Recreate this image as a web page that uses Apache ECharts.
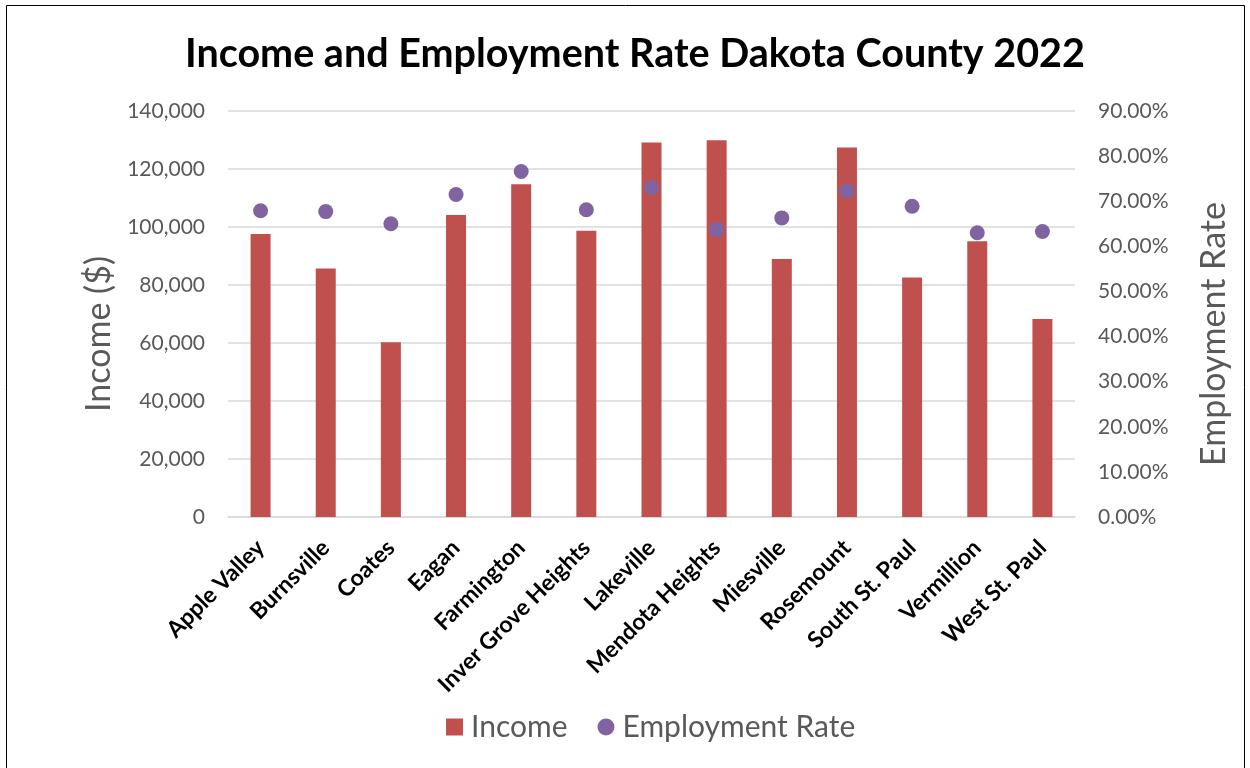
<!DOCTYPE html>
<html>
<head>
<meta charset="utf-8">
<title>Income and Employment Rate Dakota County 2022</title>
<script src="https://cdn.jsdelivr.net/npm/echarts@6/dist/echarts.min.js"></script>
<style>
  html, body { margin: 0; padding: 0; background: #ffffff; }
  #chart { width: 1250px; height: 768px; }
</style>
</head>
<body>
<div id="chart"></div>
<script>
// Cities of Dakota County
const cities = [
  'Apple Valley', 'Burnsville', 'Coates', 'Eagan', 'Farmington',
  'Inver Grove Heights', 'Lakeville', 'Mendota Heights', 'Miesville',
  'Rosemount', 'South St. Paul', 'Vermillion', 'West St. Paul'
];

// Median household income ($)
const income = [
  97600, 85700, 60300, 104100, 114700,
  98700, 129100, 129900, 89000,
  127400, 82600, 95100, 68300
];

// Employment rate (%)
const employmentRate = [
  67.9, 67.7, 65.0, 71.5, 76.6,
  68.1, 73.0, 63.7, 66.3,
  72.3, 68.9, 63.0, 63.3
];

// Axis ranges
const incomeTicks = { min: 0, max: 140000, interval: 20000 };
const rateTicks = { min: 0, max: 90, interval: 10 };

const FONT = 'Lato, "Open Sans", sans-serif';
const GREY = '#595959';

const chart = echarts.init(document.getElementById('chart'), null, { renderer: 'canvas' });

chart.setOption({
  backgroundColor: '#ffffff',
  animation: false,
  textStyle: { fontFamily: FONT },
  title: {
    text: 'Income and Employment Rate Dakota County 2022',
    left: 180,
    top: 29,
    textStyle: { fontFamily: FONT, fontWeight: 'bold', fontSize: 39.5, color: '#000000' }
  },
  graphic: [{
    type: 'rect',
    silent: true,
    shape: { x: 6.5, y: 5.5, width: 1238, height: 800 },
    style: { fill: 'none', stroke: '#000000', lineWidth: 1 }
  }],
  legend: {
    bottom: 21,
    left: 441,
    itemGap: 30,
    itemWidth: 17,
    itemHeight: 17,
    textStyle: { fontFamily: FONT, fontSize: 30, color: GREY, padding: [0, 0, 0, 3] },
    data: [
      { name: 'Income', icon: 'rect' },
      { name: 'Employment Rate', icon: 'circle' }
    ]
  },
  grid: { left: 228, right: 175, top: 111, bottom: 251, containLabel: false },
  xAxis: {
    type: 'category',
    data: cities,
    axisLine: { lineStyle: { color: '#D9D9D9', width: 1.5 } },
    axisTick: { show: false },
    axisLabel: {
      rotate: 45,
      interval: 0,
      margin: 27,
      fontFamily: FONT,
      fontWeight: 'bold',
      fontSize: 23,
      color: '#000000'
    }
  },
  yAxis: [
    {
      type: 'value',
      min: incomeTicks.min,
      max: incomeTicks.max,
      interval: incomeTicks.interval,
      name: 'Income ($)',
      nameLocation: 'middle',
      nameGap: 110,
      nameTextStyle: { fontFamily: FONT, fontSize: 34, color: GREY, padding: [0, 40, 0, 0] },
      axisLine: { show: false },
      axisTick: { show: false },
      splitLine: { lineStyle: { color: '#D9D9D9', width: 1.5 } },
      axisLabel: {
        margin: 23,
        fontFamily: FONT,
        fontSize: 21,
        color: GREY,
        formatter: v => v.toLocaleString('en-US')
      }
    },
    {
      type: 'value',
      position: 'right',
      min: rateTicks.min,
      max: rateTicks.max,
      interval: rateTicks.interval,
      name: 'Employment Rate',
      nameLocation: 'middle',
      nameGap: 122,
      nameTextStyle: { fontFamily: FONT, fontSize: 34, color: GREY, padding: [0, 40, 0, 0] },
      axisLine: { show: false },
      axisTick: { show: false },
      splitLine: { show: false },
      axisLabel: {
        margin: 23,
        fontFamily: FONT,
        fontSize: 21,
        color: GREY,
        formatter: v => v.toFixed(2) + '%'
      }
    }
  ],
  series: [
    {
      name: 'Income',
      type: 'bar',
      yAxisIndex: 0,
      data: income,
      barWidth: 20,
      itemStyle: { color: '#C0504D' }
    },
    {
      name: 'Employment Rate',
      type: 'scatter',
      yAxisIndex: 1,
      data: employmentRate,
      symbol: 'circle',
      symbolSize: 15,
      itemStyle: { color: '#8064A2', opacity: 1 }
    }
  ]
});
</script>
</body>
</html>
